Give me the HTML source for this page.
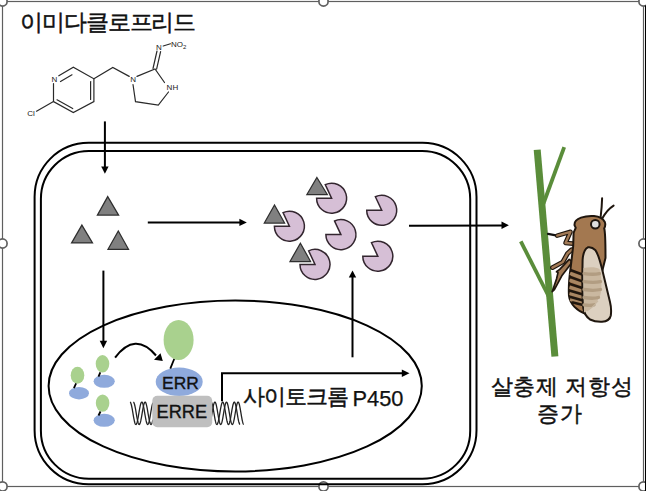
<!DOCTYPE html>
<html><head><meta charset="utf-8">
<style>
html,body{margin:0;padding:0;background:#fff;}
body{width:646px;height:491px;overflow:hidden;position:relative;font-family:"Liberation Sans",sans-serif;}
svg{position:absolute;left:0;top:0;}
.t{position:absolute;white-space:nowrap;color:#111;line-height:1;}
</style></head><body>
<svg width="646" height="491" viewBox="0 0 646 491">
<!-- selection frame -->
<g stroke="#5f5f5f" stroke-width="1.2" fill="none">
<rect x="2.5" y="1.5" width="641" height="485"/>
</g>
<g stroke="#5f5f5f" stroke-width="1.7" fill="#fff">
<circle cx="2.5" cy="1.5" r="4.6"/>
<circle cx="323.5" cy="1.5" r="4.6"/>
<circle cx="643.5" cy="1.5" r="4.6"/>
<circle cx="2.5" cy="243.5" r="4.6"/>
<circle cx="643.5" cy="243.5" r="4.6"/>
<circle cx="2.5" cy="486.4" r="4.6"/>
<circle cx="323.5" cy="486.4" r="4.6"/>
<circle cx="643.5" cy="486.4" r="4.6"/>
</g>
<line x1="645.5" y1="5.5" x2="645.5" y2="491" stroke="#000" stroke-width="1"/>

<!-- molecule -->
<g stroke="#2a2a2a" stroke-width="1.2" fill="none" stroke-linecap="round">
<path d="M53.5,83.5 L53.5,101.6 L73.3,112.6 L93.9,101.6 L93.9,78.8 L73.3,67.2 L58.8,75.8"/>
<path d="M60.5,81.5 L72,74.8"/>
<path d="M90.6,81.5 L90.6,99.4"/>
<path d="M57,99.8 L72.7,108.6"/>
<path d="M53.5,101.6 L36.5,111.2"/>
<path d="M93.9,78.8 L112.8,67.4 L129.2,76.4"/>
<path d="M137,76.4 L155,69 L164.5,82.5"/>
<path d="M133,84.5 L135.5,101.7 L158.3,105.2 L168.5,92"/>
<path d="M153,68.5 L157,51"/>
<path d="M156.6,69.2 L160.6,51.6"/>
<path d="M163.2,46 L170.5,43.8"/>
</g>
<g font-family="Liberation Sans, sans-serif" font-size="8" fill="#222">
<text x="54.4" y="81.9" text-anchor="middle">N</text>
<text x="31" y="116.4" text-anchor="middle">Cl</text>
<text x="133.2" y="82" text-anchor="middle">N</text>
<text x="172.4" y="90" text-anchor="middle">NH</text>
<text x="158.8" y="50.2" text-anchor="middle">N</text>
<text x="170.9" y="47.3">NO<tspan font-size="6" dy="1.5">2</tspan></text>
</g>

<!-- arrows -->
<g stroke="#000" stroke-width="2" fill="none">
<line x1="104.9" y1="121.4" x2="104.9" y2="168" />
<line x1="103.4" y1="270.6" x2="103.4" y2="342" />
<line x1="147.8" y1="222.4" x2="240" y2="222.4" />
<line x1="409" y1="225.8" x2="502" y2="225.4" />
<line x1="352.5" y1="357.3" x2="352.5" y2="277" />
<path d="M222,401.3 L222,373.3 L402,373.3"/>
<path d="M115.1,357.7 Q135,331 156,355.5"/>
</g>
<g fill="#000">
<path d="M101.2,166.5 L108.6,166.5 L104.9,173.8 z"/>
<path d="M99.7,340.8 L107.1,340.8 L103.4,348.2 z"/>
<path d="M239.4,218.7 L239.4,226.1 L246.8,222.4 z"/>
<path d="M501.5,221.6 L501.5,229 L508.9,225.3 z"/>
<path d="M348.8,277.6 L356.2,277.6 L352.5,270.4 z"/>
<path d="M401.8,369.6 L401.8,377 L409.5,373.3 z"/>
<path d="M154,359.8 L160.5,353.2 L162.8,361 z"/>
</g>

<!-- cell -->
<g stroke="#000" stroke-width="2" fill="none">
<rect x="34.6" y="142.8" width="441.9" height="341.5" rx="54" ry="54"/>
<rect x="40.9" y="151" width="429.3" height="327.7" rx="48" ry="48"/>
<ellipse cx="235.2" cy="386" rx="186.6" ry="85.5"/>
</g>

<!-- triangles -->
<g fill="#808080" stroke="#2e2e2e" stroke-width="1.25" stroke-linejoin="miter">
<path d="M107.7,196.6 L118.6,215.1 L97.4,215.1 z"/>
<path d="M81.9,225.1 L92.5,242.9 L71.6,242.9 z"/>
<path d="M118.3,231 L128.5,249.3 L108,249.3 z"/>
<path d="M316.9,177.5 L327.3,194.5 L306.9,194.5 z"/>
<path d="M274.5,205 L284.6,223 L264.3,223 z"/>
<path d="M300.4,243.2 L310.6,261.5 L290,261.5 z"/>
</g>

<!-- pacmen -->
<g id="pacs" fill="#d6bfd6" stroke="#33262f" stroke-width="1.5">
<path d="M331.6,198.2 L316.6,198.2 A15,15 0 1 0 325.26,184.61 Z"/>
<path d="M381.7,210.3 L366.7,210.3 A15,15 0 1 0 375.36,196.71 Z"/>
<path d="M289.4,226.2 L274.4,226.2 A15,15 0 1 0 283.06,212.61 Z"/>
<path d="M340.9,234.6 L325.9,234.6 A15,15 0 1 0 334.56,221.01 Z"/>
<path d="M315.0,264.4 L300.0,264.4 A15,15 0 1 0 308.66,250.81 Z"/>
<path d="M377.8,256.2 L362.8,256.2 A15,15 0 1 0 371.46,242.61 Z"/>
</g>

<!-- nucleus contents -->
<g fill="#a9d18e">
<ellipse cx="77.5" cy="375.3" rx="6.8" ry="8.5"/>
<ellipse cx="102.5" cy="363.8" rx="6.8" ry="8.7"/>
<ellipse cx="102.6" cy="403.1" rx="6.8" ry="8.6"/>
<ellipse cx="178.6" cy="339.9" rx="15" ry="20"/>
</g>
<g fill="#8faadc">
<ellipse cx="79" cy="393.2" rx="10" ry="6.2"/>
<ellipse cx="104.2" cy="381.3" rx="10.6" ry="6.5"/>
<ellipse cx="104.2" cy="420.3" rx="10.6" ry="6.5"/>
<ellipse cx="179.2" cy="381.8" rx="23.5" ry="14.2"/>
</g>
<g stroke="#000" stroke-width="1.8">
<line x1="76.1" y1="383.3" x2="73.9" y2="388.2"/>
<line x1="100.3" y1="372.3" x2="98.5" y2="376.6"/>
<line x1="100.5" y1="411.5" x2="98.5" y2="415.5"/>
<line x1="174.2" y1="359" x2="170.3" y2="368.7"/>
</g>
<g id="dna" stroke="#222" stroke-width="1.3" fill="none">
<polyline points="130.00,402.10 130.25,402.20 130.50,402.49 130.75,402.98 131.00,403.65 131.25,404.49 131.50,405.49 131.75,406.62 132.00,407.87 132.25,409.22 132.50,410.64 132.75,412.11 133.00,413.60 133.25,415.08 133.50,416.53 133.75,417.93 134.00,419.24 134.25,420.45 134.50,421.53 134.75,422.46 135.00,423.24 135.25,423.84 135.50,424.25 135.75,424.46 136.00,424.48 136.25,424.31 136.50,423.93 136.75,423.37 137.00,422.63 137.25,421.73 137.50,420.68 137.75,419.49 138.00,418.20 138.25,416.82 138.50,415.38 138.75,413.90 139.00,412.41 139.25,410.93 139.50,409.50 139.75,408.14 140.00,406.86 140.25,405.70 140.50,404.68 140.75,403.81 141.00,403.10 141.25,402.58 141.50,402.24 141.75,402.10 142.00,402.16 142.25,402.42 142.50,402.87 142.75,403.50 143.00,404.31 143.25,405.28 143.50,406.38 143.75,407.61 144.00,408.95 144.25,410.35 144.50,411.81 144.75,413.30 145.00,414.79 145.25,416.25 145.50,417.65 145.75,418.99 146.00,420.22 146.25,421.32 146.50,422.29 146.75,423.10 147.00,423.73 147.25,424.18 147.50,424.44 147.75,424.50 148.00,424.36 148.25,424.02 148.50,423.50 148.75,422.79 149.00,421.92 149.25,420.90 149.50,419.74 149.75,418.46 150.00,417.10 150.25,415.67 150.50,414.19 150.75,412.70 151.00,411.22 151.25,409.78 151.50,408.40 151.75,407.11 152.00,405.92 152.25,404.87 152.50,403.97 152.75,403.23 153.00,402.67"/>
<polyline points="133.30,402.10 133.55,402.20 133.80,402.49 134.05,402.98 134.30,403.65 134.55,404.49 134.80,405.49 135.05,406.62 135.30,407.87 135.55,409.22 135.80,410.64 136.05,412.11 136.30,413.60 136.55,415.08 136.80,416.53 137.05,417.93 137.30,419.24 137.55,420.45 137.80,421.53 138.05,422.46 138.30,423.24 138.55,423.84 138.80,424.25 139.05,424.46 139.30,424.48 139.55,424.31 139.80,423.93 140.05,423.37 140.30,422.63 140.55,421.73 140.80,420.68 141.05,419.49 141.30,418.20 141.55,416.82 141.80,415.38 142.05,413.90 142.30,412.41 142.55,410.93 142.80,409.50 143.05,408.14 143.30,406.86 143.55,405.70 143.80,404.68 144.05,403.81 144.30,403.10 144.55,402.58 144.80,402.24 145.05,402.10 145.30,402.16 145.55,402.42 145.80,402.87 146.05,403.50 146.30,404.31 146.55,405.28 146.80,406.38 147.05,407.61 147.30,408.95 147.55,410.35 147.80,411.81 148.05,413.30 148.30,414.79 148.55,416.25 148.80,417.65 149.05,418.99 149.30,420.22 149.55,421.32 149.80,422.29 150.05,423.10 150.30,423.73 150.55,424.18 150.80,424.44 151.05,424.50 151.30,424.36 151.55,424.02 151.80,423.50 152.05,422.79 152.30,421.92 152.55,420.90 152.80,419.74"/>
<polyline points="205.00,406.52 205.25,407.79 205.50,409.15 205.75,410.60 206.00,412.09 206.25,413.60 206.50,415.11 206.75,416.59 207.00,418.00 207.25,419.33 207.50,420.55 207.75,421.64 208.00,422.57 208.25,423.33 208.50,423.91 208.75,424.30 209.00,424.48 209.25,424.46 209.50,424.24 209.75,423.81 210.00,423.20 210.25,422.40 210.50,421.43 210.75,420.32 211.00,419.07 211.25,417.73 211.50,416.30 211.75,414.81 212.00,413.30 212.25,411.79 212.50,410.30 212.75,408.87 213.00,407.53 213.25,406.28 213.50,405.17 213.75,404.20 214.00,403.40 214.25,402.79 214.50,402.36 214.75,402.14 215.00,402.12 215.25,402.30 215.50,402.69 215.75,403.27 216.00,404.03 216.25,404.96 216.50,406.05 216.75,407.27 217.00,408.60 217.25,410.01 217.50,411.49 217.75,413.00 218.00,414.51 218.25,416.00 218.50,417.45 218.75,418.81 219.00,420.08 219.25,421.22 219.50,422.22 219.75,423.05 220.00,423.70 220.25,424.17 220.50,424.43 220.75,424.50 221.00,424.35 221.25,424.01 221.50,423.46 221.75,422.74 222.00,421.84 222.25,420.78 222.50,419.59 222.75,418.28 223.00,416.88 223.25,415.41 223.50,413.91 223.75,412.39 224.00,410.89 224.25,409.44 224.50,408.05 224.75,406.77 225.00,405.60 225.25,404.57 225.50,403.70 225.75,403.01 226.00,402.51 226.25,402.20 226.50,402.10 226.75,402.20 227.00,402.51 227.25,403.01 227.50,403.70 227.75,404.57 228.00,405.60 228.25,406.77 228.50,408.05 228.75,409.44 229.00,410.89 229.25,412.39 229.50,413.91 229.75,415.41 230.00,416.88 230.25,418.28 230.50,419.59 230.75,420.78 231.00,421.84 231.25,422.74 231.50,423.46 231.75,424.01 232.00,424.35 232.25,424.50 232.50,424.43 232.75,424.17 233.00,423.70 233.25,423.05 233.50,422.22 233.75,421.22 234.00,420.08 234.25,418.81 234.50,417.45 234.75,416.00 235.00,414.51 235.25,413.00 235.50,411.49 235.75,410.01 236.00,408.60 236.25,407.27 236.50,406.05 236.75,404.96 237.00,404.03 237.25,403.27 237.50,402.69 237.75,402.30 238.00,402.12 238.25,402.14 238.50,402.36 238.75,402.79 239.00,403.40 239.25,404.20 239.50,405.17 239.75,406.28 240.00,407.53 240.25,408.87 240.50,410.30 240.75,411.79 241.00,413.30 241.25,414.81 241.50,416.30 241.75,417.73 242.00,419.07 242.25,420.32 242.50,421.43 242.75,422.40 243.00,423.20 243.25,423.81 243.50,424.24 243.75,424.46"/>
<polyline points="205.00,424.35 205.25,424.50 205.50,424.43 205.75,424.17 206.00,423.70 206.25,423.05 206.50,422.22 206.75,421.22 207.00,420.08 207.25,418.81 207.50,417.45 207.75,416.00 208.00,414.51 208.25,413.00 208.50,411.49 208.75,410.01 209.00,408.60 209.25,407.27 209.50,406.05 209.75,404.96 210.00,404.03 210.25,403.27 210.50,402.69 210.75,402.30 211.00,402.12 211.25,402.14 211.50,402.36 211.75,402.79 212.00,403.40 212.25,404.20 212.50,405.17 212.75,406.28 213.00,407.53 213.25,408.87 213.50,410.30 213.75,411.79 214.00,413.30 214.25,414.81 214.50,416.30 214.75,417.73 215.00,419.07 215.25,420.32 215.50,421.43 215.75,422.40 216.00,423.20 216.25,423.81 216.50,424.24 216.75,424.46 217.00,424.48 217.25,424.30 217.50,423.91 217.75,423.33 218.00,422.57 218.25,421.64 218.50,420.55 218.75,419.33 219.00,418.00 219.25,416.59 219.50,415.11 219.75,413.60 220.00,412.09 220.25,410.60 220.50,409.15 220.75,407.79 221.00,406.52 221.25,405.38 221.50,404.38 221.75,403.55 222.00,402.90 222.25,402.43 222.50,402.17 222.75,402.10 223.00,402.25 223.25,402.59 223.50,403.14 223.75,403.86 224.00,404.76 224.25,405.82 224.50,407.01 224.75,408.32 225.00,409.72 225.25,411.19 225.50,412.69 225.75,414.21 226.00,415.71 226.25,417.16 226.50,418.55 226.75,419.83 227.00,421.00 227.25,422.03 227.50,422.90 227.75,423.59 228.00,424.09 228.25,424.40 228.50,424.50 228.75,424.40 229.00,424.09 229.25,423.59 229.50,422.90 229.75,422.03 230.00,421.00 230.25,419.83 230.50,418.55 230.75,417.16 231.00,415.71 231.25,414.21 231.50,412.69 231.75,411.19 232.00,409.72 232.25,408.32 232.50,407.01 232.75,405.82 233.00,404.76 233.25,403.86 233.50,403.14 233.75,402.59 234.00,402.25 234.25,402.10 234.50,402.17 234.75,402.43 235.00,402.90 235.25,403.55 235.50,404.38 235.75,405.38 236.00,406.52 236.25,407.79 236.50,409.15 236.75,410.60 237.00,412.09 237.25,413.60 237.50,415.11 237.75,416.59 238.00,418.00 238.25,419.33 238.50,420.55 238.75,421.64 239.00,422.57 239.25,423.33 239.50,423.91 239.75,424.30 240.00,424.48"/>
</g>
<rect x="152.3" y="395.8" width="59.9" height="31.4" rx="5" fill="#bfbfbf"/>
<g font-family="Liberation Sans, sans-serif" fill="#111" stroke="#111" stroke-width="0.35">
<text x="180.4" y="388.9" font-size="17.4" text-anchor="middle">ERR</text>
<text x="181.8" y="418" font-size="18.2" text-anchor="middle">ERRE</text>
</g>

<!-- plant -->
<g stroke="#5a8d3a" stroke-linecap="butt" fill="none">
<line x1="537.2" y1="149.7" x2="554.9" y2="356.5" stroke-width="7"/>
<line x1="564.2" y1="147.1" x2="543.5" y2="203.5" stroke-width="3.8"/>
<line x1="520.8" y1="241.4" x2="549.5" y2="298" stroke-width="3.8"/>
</g>
<g id="insect">
<g stroke-linecap="round" stroke-linejoin="round" fill="none">
<path d="M548,233.9 L557.2,235.6" stroke="#111" stroke-width="2.2"/>
<path d="M557.2,235.6 L570.5,231.8 L565.5,243 L573,243.6" stroke="#1f160e" stroke-width="4.6"/>
<path d="M557.2,235.6 L570.5,231.8 L565.5,243 L573,243.6" stroke="#a27a56" stroke-width="2.3"/>
<path d="M552.5,267.6 L562.8,262 L567.5,253.5 L571.5,249.8" stroke="#1f160e" stroke-width="4.8"/>
<path d="M552.5,267.6 L562.8,262 L567.5,253.5 L571.5,249.8" stroke="#a27a56" stroke-width="2.5"/>
</g>
<path d="M552.2,291.7 L556.5,279 L558,272.6 L556.5,271.8 L559.7,269.4 L569.2,259.4 L571.5,261 L570.8,264.1 L561.8,275.8 L554.4,289.6 Z" fill="#a27a56" stroke="#1f160e" stroke-width="1.7" stroke-linejoin="round"/>
<g stroke="#1f160e" stroke-width="2" fill="none" stroke-linecap="round">
<path d="M600.6,217.5 C601.5,210 602,203 602.1,198.3"/>
<path d="M602.2,218.5 C605,213.5 609,208.5 613.6,205.6"/>
</g>
<path d="M574.6,225.5 C574,221.5 577,219 581,217.6 C585,216.3 590,215.8 594,216.1 C599,216.6 603,218.5 604.8,222 C605.8,224.5 605.2,226.5 604.2,228.4 C605,231 605.5,240 605.5,258 L602,272 L598,300 L586,314 C577,311 570,304 569,296 C568.4,288 569.5,276 570.6,268 L573.2,246 L573.6,233 C574,231 575.6,229 575.7,227.6 Z" fill="#a37850" stroke="#1f160e" stroke-width="2"/>
<g stroke="#a98763" stroke-width="3">
<line x1="570" y1="273.5" x2="583" y2="278"/>
<line x1="569.5" y1="280.2" x2="583" y2="284.8"/>
<line x1="569.5" y1="287.2" x2="583" y2="291.2"/>
<line x1="569.5" y1="293.5" x2="583" y2="297.3"/>
<line x1="570" y1="299.5" x2="583" y2="302.6"/>
</g>
<g stroke="#1f160e" stroke-width="2.6">
<line x1="570.3" y1="270" x2="583" y2="274.8"/>
<line x1="569.6" y1="276.7" x2="583" y2="281.6"/>
<line x1="569.3" y1="283.8" x2="583" y2="288.3"/>
<line x1="569.3" y1="290.5" x2="583" y2="294.4"/>
<line x1="569.8" y1="296.8" x2="583" y2="300.5"/>
<line x1="572" y1="302.3" x2="583" y2="305"/>
</g>
<path d="M587.9,247.3 C584.5,249 583,254 582.6,260 L582.3,277 C582.3,290 582.5,300 583.3,308 C584,313 586.5,317 590,319.5 C594,321.5 598,322 602,321.8 C606,321.5 610,319.5 610.8,315.5 C611.4,311 611,306 610,302 L601.7,267.5 C599.5,259 597.5,253 595.5,250.3 C593,247.8 590.5,246.8 587.9,247.3 Z" fill="#dcd0c0" stroke="#1f160e" stroke-width="2"/>
<path d="M583.5,268 C590,267 596,267 599.5,269 C601.5,276 602.5,288 600,296 C596.5,304 591,309 584,312.5 Z" fill="#cab8a0"/>
<g stroke="#b29d82" stroke-width="3.3" stroke-linecap="round" fill="none">
<path d="M584,273.6 C590,274.5 595,274.5 599.5,273.6"/>
<path d="M584,281.6 C590,282.5 596,282.5 600.5,281.6"/>
<path d="M584,289.5 C590,290.5 596,290.5 600.5,289.5"/>
<path d="M584,297.5 C590,298.5 595,298.5 598.5,297.5"/>
<path d="M584,304.8 C588,305.5 591,305.5 594,304.8"/>
</g>
<path d="M598,301 C595,305 592,308 587,311" stroke="#c8b8a2" stroke-width="1.2" fill="none"/>
<ellipse cx="595.3" cy="224.3" rx="4.3" ry="4.2" fill="#dedede" stroke="#1f160e" stroke-width="2"/>
</g>
</svg>
<div class="t" style="left:20px;top:11px;font-size:23px;letter-spacing:-1.1px;-webkit-text-stroke:0.45px #111">이미다클로프리드</div>
<div class="t" style="left:243px;top:386px;font-size:22px;letter-spacing:-0.9px;-webkit-text-stroke:0.45px #111">사이토크롬</div>
<div class="t" style="left:352.5px;top:388px;font-size:21.8px;-webkit-text-stroke:0.25px #111">P450</div>
<div class="t" style="left:490.5px;top:376px;font-size:22px;letter-spacing:0.7px;-webkit-text-stroke:0.45px #111">살충제 저항성</div>
<div class="t" style="left:537px;top:402.5px;font-size:22px;letter-spacing:1px;-webkit-text-stroke:0.45px #111">증가</div>
</body></html>
